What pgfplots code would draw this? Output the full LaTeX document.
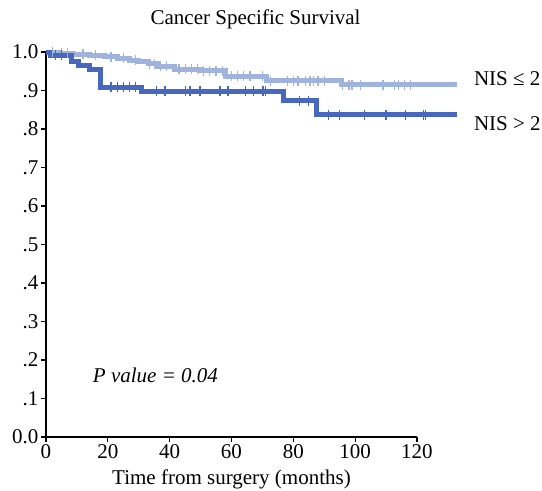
\documentclass[border=0pt]{standalone}
\usepackage{pgfplots}
\pgfplotsset{compat=1.18}
\usepackage{fontspec}
\setmainfont{Liberation Serif}
\newcommand\bigf{\fontsize{21}{24}\selectfont}
\definecolor{darkb}{RGB}{72,103,190}
\definecolor{lightb}{RGB}{160,178,222}
\begin{document}
\begin{tikzpicture}
\useasboundingbox (-46pt,-54pt) rectangle (496pt,437pt);
\begin{axis}[
  at={(0pt,0pt)}, anchor=south west,
  scale only axis, width=371pt, height=385pt,
  xmin=0, xmax=120, ymin=0, ymax=1,
  axis x line*=bottom, axis y line*=left,
  axis line style={line width=1.2pt, black},
  clip=false,
  xtick={0,20,40,60,80,100,120},
  ytick={0,0.1,0.2,0.3,0.4,0.5,0.6,0.7,0.8,0.9,1.0},
  yticklabels={0.0,.1,.2,.3,.4,.5,.6,.7,.8,.9,1.0},
  tick align=outside,
  major tick length=5pt,
  tick style={line width=1.2pt, black},
  /pgf/number format/assume math mode=true,
  tick label style={font=\bigf},
  xlabel={Time from surgery (months)},
  xlabel style={font=\bigf, at={(axis description cs:0.5,0)}, anchor=base, yshift=-47pt},
  xticklabel style={yshift=1pt},
  yticklabel style={xshift=1pt},
]
\addplot[const plot, color=lightb, line width=5pt] coordinates {
(0,1.0)(4,0.997)(9,0.994)(14,0.991)(19,0.988)(23,0.984)(27,0.979)(30,0.975)(33,0.969)(36,0.963)(41.7,0.955)(50,0.951)(58,0.937)(71.4,0.925)(95.6,0.915)(133,0.915)
};
\addplot[only marks, mark=|, mark size=5pt, color=lightb, mark options={line width=1.2pt}] coordinates {
(2,1.0)(5,0.997)(7,0.997)(12,0.994)(16,0.991)(21,0.988)(25,0.984)(29,0.979)(33.5,0.969)(35,0.969)(37,0.963)(39,0.963)(43,0.955)(45,0.955)(47,0.955)(49,0.955)(51,0.951)(53,0.951)(55,0.951)(57,0.951)(60,0.937)(62,0.937)(64,0.937)(66,0.937)(70,0.937)(72.5,0.925)(78,0.925)(80,0.925)(81.5,0.925)(84,0.925)(85.4,0.925)(86.4,0.925)(88,0.925)(90,0.925)(96,0.915)(98,0.915)(99,0.915)(101.6,0.915)(109,0.915)(112.6,0.915)(114,0.915)(116,0.915)(118,0.915)
};
\addplot[const plot, color=darkb, line width=5pt] coordinates {
(0,1.0)(1.5,0.992)(8.3,0.975)(10.4,0.966)(14.2,0.955)(17.5,0.909)(31,0.898)(76.8,0.873)(87.5,0.837)(133,0.837)
};
\addplot[only marks, mark=|, mark size=5pt, color=darkb, mark options={line width=1.2pt}] coordinates {
(3,0.992)(5,0.992)(21,0.909)(23,0.909)(25,0.909)(27,0.909)(29,0.909)(35.8,0.898)(38.5,0.898)(45,0.898)(46.6,0.898)(49.8,0.898)(56.3,0.898)(58.9,0.898)(64.4,0.898)(67,0.898)(70.2,0.898)(71,0.898)(82,0.873)(85,0.873)(91.5,0.837)(95,0.837)(103,0.837)(110,0.837)(116.4,0.837)(122,0.837)(122.8,0.837)
};
\node[font=\bigf] at (axis cs:67.8,1.085) {Cancer Specific Survival};
\node[font=\bigf\itshape] at (axis cs:35.4,0.161) {P value = 0.04};
\node[font=\bigf, anchor=base west] at (axis cs:137.3,0.912) {NIS ≤ 2};
\node[font=\bigf, anchor=base west] at (axis cs:137.3,0.795) {NIS > 2};
\end{axis}
\end{tikzpicture}
\end{document}
